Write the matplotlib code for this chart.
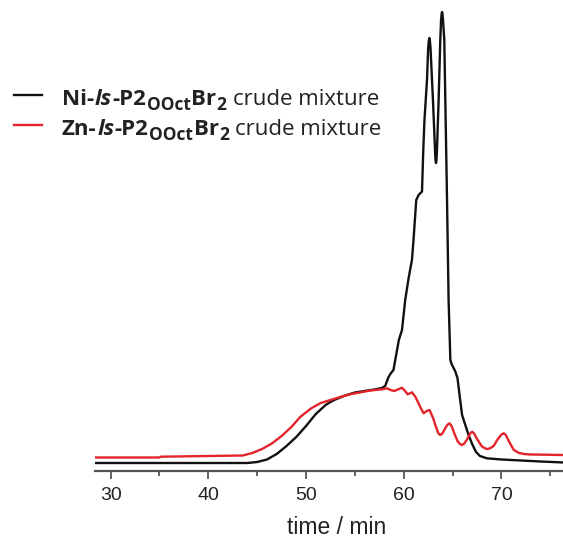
import matplotlib
matplotlib.use("Agg")
import matplotlib.pyplot as plt
from matplotlib.lines import Line2D
from matplotlib.ticker import MultipleLocator

plt.rcParams["font.family"] = ["Liberation Sans", "DejaVu Sans"]

# GPC traces, detector signal in arbitrary units
ni_time = [28.4, 44.0, 45.0, 46.0, 47.0, 48.0, 49.0, 50.0, 51.0, 52.0, 52.5, 53.0,
           54.0, 55.0, 56.0, 57.0, 57.76, 58.1, 58.44, 58.7, 58.95, 59.13, 59.5,
           59.82, 60.15, 60.5, 60.84, 61.0, 61.28, 61.52, 61.87, 62.0, 62.12, 62.38,
           62.5, 62.56, 62.62, 62.68, 62.74, 62.99, 63.2, 63.25, 63.3, 63.35, 63.4,
           63.57, 63.74, 63.82, 63.87, 63.92, 63.97, 64.02, 64.15, 64.29, 64.43,
           64.59, 64.77, 64.9, 65.1, 65.28, 65.5, 65.75, 65.97, 66.3, 66.6, 67.0,
           67.4, 67.8, 68.5, 70.0, 72.0, 74.0, 76.4]
ni_signal = [0, 0, 1, 3.5, 9, 17, 26, 37, 49, 58, 61, 63.5,
             67.5, 70.5, 72, 73.5, 75, 77, 86, 90, 93, 103, 123,
             133, 163, 185, 203, 223, 263, 268, 271.5, 313, 343, 383,
             415, 422, 425, 422, 415, 363, 313, 303, 300, 303, 313,
             363, 423, 443, 448.5, 451, 448.5, 443, 423, 343, 263,
             163, 103, 99, 95, 91.5, 85, 65, 48, 38, 29, 19,
             11, 7, 4.7, 3.5, 2.5, 1.5, 0.5]

zn_time = [28.4, 35.0, 35.1, 43.5, 44.5, 45.5, 46.5, 47.5, 48.5, 49.4, 50.5, 51.5,
           52.5, 53.5, 54.5, 55.5, 56.56, 57.3, 57.8, 58.28, 58.65, 59.03, 59.4,
           59.81, 60.1, 60.39, 60.6, 60.84, 61.2, 61.69, 62.03, 62.35, 62.65, 63.0,
           63.3, 63.55, 63.74, 63.95, 64.2, 64.45, 64.67, 64.9, 65.2, 65.5, 65.75,
           65.96, 66.2, 66.5, 66.8, 67.0, 67.2, 67.5, 68.0, 68.3, 68.53, 68.8,
           69.2, 69.6, 70.0, 70.24, 70.45, 70.8, 71.27, 71.8, 72.3, 73.0, 76.4]
zn_signal = [5.5, 5.5, 6.3, 7.5, 10, 14, 19.5, 27, 36, 46, 54.5, 60,
             63, 66, 68.7, 70.5, 72.5, 73.2, 73.7, 74.7, 73, 72, 73.5,
             75.3, 72.5, 68.7, 69.5, 70.7, 66, 56, 49.7, 52, 53, 45,
             36, 29.5, 28, 29.5, 34, 38, 39.7, 37, 29, 22, 19,
             18, 19.5, 24, 29.5, 31.3, 29.5, 24, 16.5, 14.8, 14, 14.5,
             17, 23.5, 28.5, 29.7, 28, 21, 13, 10, 9, 8.5, 8]

# legend labels as (text, weight, style, subscript) runs
ni_label = [("Ni-", "bold", "normal", False), ("ls", "bold", "italic", False),
            ("-P2", "bold", "normal", False), ("OOct", "bold", "normal", True),
            ("Br", "bold", "normal", False), ("2", "bold", "normal", True),
            (" ", "normal", "normal", False), ("crude mixture", "normal", "normal", False)]
zn_label = [("Zn-", "bold", "normal", False)] + ni_label[1:]

W, H = 563, 542
fig = plt.figure(figsize=(W / 100, H / 100), dpi=100)
ax = fig.add_axes([95 / W, (H - 470.7) / H, (W - 95) / W, 470.7 / H])

ax.plot(ni_time, ni_signal, color="#111111", lw=1.7, solid_joinstyle="round")
ax.plot(zn_time, zn_signal, color="#e3242b", lw=1.7, solid_joinstyle="round")

ax.set_xlim(28.4, 76.3)
ax.set_ylim(-7.7, 463)

for side in ["top", "right", "left"]:
    ax.spines[side].set_visible(False)
ax.spines["bottom"].set_color("#555555")
ax.spines["bottom"].set_linewidth(1.6)
ax.set_yticks([])
ax.xaxis.set_major_locator(MultipleLocator(10))
ax.xaxis.set_minor_locator(MultipleLocator(5))
ax.tick_params(axis="x", which="major", length=6, width=1.3, color="#555555",
               labelsize=14, labelcolor="#222222", pad=6)
ax.tick_params(axis="x", which="minor", length=3.5, width=1.3, color="#555555")

fig.text(337 / W, 1 - 527 / H, "time / min", fontsize=16.5, color="#222222",
         ha="center", va="center")


# legend drawn by hand, run by run
def fig_xy(x, y):
    return x / W, 1 - y / H


renderer = fig.canvas.get_renderer()
fs = 16
for ypix, col, runs in [(95, "#111111", ni_label), (125, "#e3242b", zn_label)]:
    x0, y0 = fig_xy(14, ypix)
    x1, _ = fig_xy(42, ypix)
    fig.add_artist(Line2D([x0, x1], [y0, y0], color=col, lw=1.7,
                          transform=fig.transFigure))
    x = 62
    base = ypix + 10
    for text, weight, style, sub in runs:
        if text == " ":
            x += fs * 0.26 * 100 / 72
            continue
        size = fs * 0.78 if sub else fs
        tx, ty = fig_xy(x, base + (4.5 if sub else 0))
        t = fig.text(tx, ty, text, fontsize=size, fontweight=weight, fontstyle=style,
                     color="#222222", ha="left", va="baseline",
                     family=["Open Sans", "DejaVu Sans"])
        x += t.get_window_extent(renderer).width + 0.5

fig.savefig("out.png", dpi=100)
